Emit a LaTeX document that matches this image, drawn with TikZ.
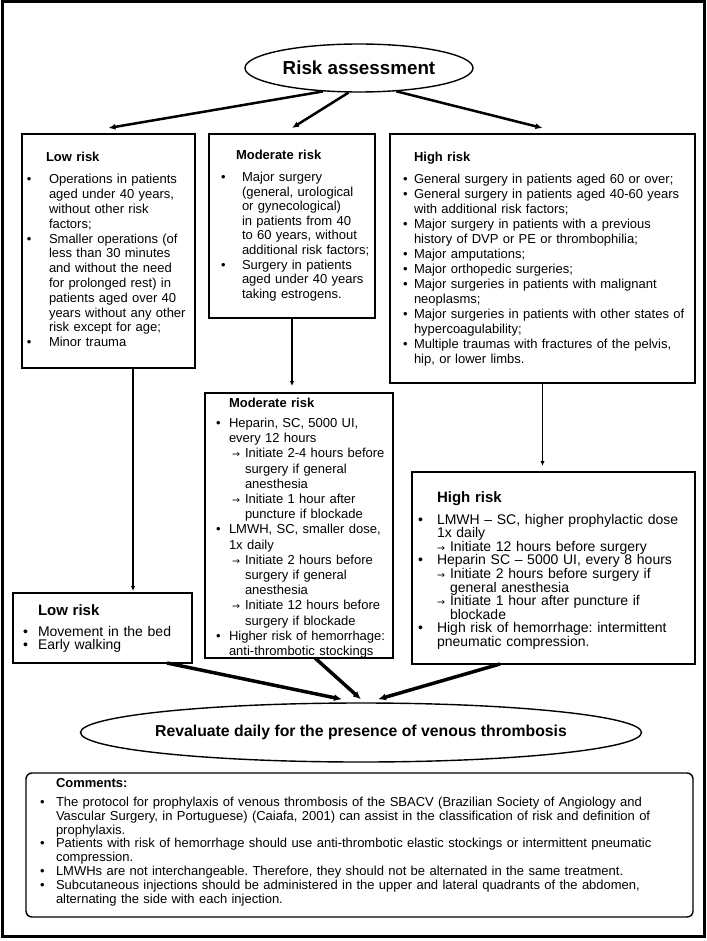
\documentclass[tikz,border=0pt]{standalone}
\usepackage{fontspec}
\setmainfont{Liberation Sans}
\newfontfamily\arrowfont{DejaVu Sans}
\usepackage{enumitem}
\usepackage{tikz}
\usetikzlibrary{shapes.geometric, arrows.meta, positioning}

\frenchspacing
\setlist[itemize]{nosep, labelsep=0pt, align=left, rightmargin=-40pt}
\setlist[itemize,1]{label=\textbullet}
\setlist[itemize,2]{label={\arrowfont\fontsize{9.5}{9.5}\selectfont →}}

\begin{document}
\begin{tikzpicture}[x=1pt, y=-1pt, >={Latex[length=7pt,width=6pt]}]
\tikzstyle{riskbox}=[draw, line width=1.6pt, anchor=north west, inner sep=0pt, outer sep=0pt, align=left]
\tikzstyle{riskoval}=[draw, ellipse, line width=1.4pt, inner sep=0pt, font=\bfseries]

\useasboundingbox (0,0) rectangle (706,941);
\draw[line width=3pt] (2,2) rectangle (704,936);

\node[riskoval, minimum width=228pt, minimum height=48pt, font={\fontsize{18.8}{20}\selectfont\bfseries}] (risk) at (359,68) {Risk assessment};

% first row: classification
\node[riskbox, text width=173pt, text height=28pt, text depth=206pt, font={\fontsize{13}{14.8}\selectfont}] (low1) at (22,134) {%
\noindent\hspace*{24pt}\textbf{Low risk}\par\vspace{7.2pt}
\begin{itemize}[leftmargin=27pt, labelwidth=22pt]
\item Operations in patients\\aged under 40 years,\\without other risk\\factors;
\item Smaller operations (of\\less than 30 minutes\\and without the need\\for prolonged rest) in\\patients aged over 40\\years without any other\\risk except for age;
\item Minor trauma
\end{itemize}};

\node[riskbox, text width=166pt, text height=25.5pt, text depth=158.5pt, font={\fontsize{13}{14.6}\selectfont}] (mod1) at (209,134) {%
\noindent\hspace*{27pt}\textbf{Moderate risk}\par\vspace{7.4pt}
\begin{itemize}[leftmargin=33pt, labelwidth=21pt]
\item Major surgery\\(general, urological\\or gynecological)\\in patients from 40\\to 60 years, without\\additional risk factors;
\item Surgery in patients\\aged under 40 years\\taking estrogens.
\end{itemize}};

\node[riskbox, text width=305pt, text height=27.5pt, text depth=221.5pt, font={\fontsize{13}{15}\selectfont}] (high1) at (390,134) {%
\noindent\hspace*{24pt}\textbf{High risk}\par\vspace{7pt}
\begin{itemize}[leftmargin=24pt, labelwidth=11pt]
\item General surgery in patients aged 60 or over;
\item General surgery in patients aged 40-60 years\\with additional risk factors;
\item Major surgery in patients with a previous\\history of DVP or PE or thrombophilia;
\item Major amputations;
\item Major orthopedic surgeries;
\item Major surgeries in patients with malignant\\neoplasms;
\item Major surgeries in patients with other states of\\hypercoagulability;
\item Multiple traumas with fractures of the pelvis,\\hip, or lower limbs.
\end{itemize}};

% second row: prophylaxis
\node[riskbox, text width=188pt, text height=14.5pt, text depth=250.5pt, font={\fontsize{13}{15.2}\selectfont}] (mod2) at (205,393) {%
\noindent\hspace*{24pt}\textbf{Moderate risk}\par\vspace{4.8pt}
\begin{itemize}[leftmargin=24pt, labelwidth=13pt]
\item Heparin, SC, 5000 UI,\\every 12 hours
  \begin{itemize}[leftmargin=16pt, labelwidth=13pt]
  \item Initiate 2-4 hours before\\surgery if general\\anesthesia
  \item Initiate 1 hour after\\puncture if blockade
  \end{itemize}
\item LMWH, SC, smaller dose,\\1x daily
  \begin{itemize}[leftmargin=16pt, labelwidth=13pt]
  \item Initiate 2 hours before\\surgery if general\\anesthesia
  \item Initiate 12 hours before\\surgery if blockade
  \end{itemize}
\item Higher risk of hemorrhage:\\anti-thrombotic stockings
\end{itemize}};

\node[riskbox, text width=283pt, text height=30pt, text depth=162pt, font={\fontsize{14}{13.6}\selectfont}] (high2) at (412,472) {%
\noindent\hspace*{25pt}{\fontsize{15}{13.6}\selectfont\textbf{High risk}}\par\vspace{8.4pt}
\begin{itemize}[leftmargin=25pt, labelwidth=19pt]
\item LMWH – SC, higher prophylactic dose\\1x daily
  \begin{itemize}[leftmargin=13pt, labelwidth=13pt]
  \item Initiate 12 hours before surgery
  \end{itemize}
\item Heparin SC – 5000 UI, every 8 hours
  \begin{itemize}[leftmargin=13pt, labelwidth=13pt]
  \item Initiate 2 hours before surgery if\\general anesthesia
  \item Initiate 1 hour after puncture if\\blockade
  \end{itemize}
\item High risk of hemorrhage: intermittent\\pneumatic compression.
\end{itemize}};

\node[riskbox, text width=179pt, text height=22pt, text depth=48pt, font={\fontsize{14}{13}\selectfont}] (low2) at (13,593) {%
\noindent\hspace*{25pt}{\fontsize{15}{13}\selectfont\textbf{Low risk}}\par\vspace{8.5pt}
\begin{itemize}[leftmargin=25pt, labelwidth=15pt]
\item Movement in the bed
\item Early walking
\end{itemize}};

\node[riskoval, inner xsep=-12pt, minimum width=561pt, minimum height=59pt, font={\fontsize{15.8}{17}\selectfont\bfseries}] (reval) at (361,732.5) {Revaluate daily for the presence of venous thrombosis};

\node[riskbox, rounded corners=6pt, line width=1.4pt, text width=667pt, text height=14pt, text depth=130pt, font={\fontsize{13}{13.8}\selectfont}] (comm) at (26,773) {%
\noindent\hspace*{30pt}\textbf{Comments:}\par\vspace{5.7pt}
\begin{itemize}[leftmargin=30pt, labelwidth=16pt]
\item The protocol for prophylaxis of venous thrombosis of the SBACV (Brazilian Society of Angiology and\\Vascular Surgery, in Portuguese) (Caiafa, 2001) can assist in the classification of risk and definition of\\prophylaxis.
\item Patients with risk of hemorrhage should use anti-thrombotic elastic stockings or intermittent pneumatic\\compression.
\item LMWHs are not interchangeable. Therefore, they should not be alternated in the same treatment.
\item Subcutaneous injections should be administered in the upper and lateral quadrants of the abdomen,\\alternating the side with each injection.
\end{itemize}};

\coordinate (lowdown) at ([xshift=24.5pt]low1.south);

\path[->, line width=2.5pt]
(risk.213) edge ([yshift=6pt]low1.north)
(risk.247) edge ([yshift=6pt]mod1.north)
(risk.328) edge ([yshift=6pt]high1.north);

\path[->, line width=1.3pt, >={Latex[length=5pt,width=4.5pt]}]
(lowdown) edge[shorten >=2pt] (lowdown |- low2.north)
(mod1.south) edge[shorten >=7pt] (mod1.south |- mod2.north)
(high1.south) edge[shorten >=6pt] (high1.south |- high2.north);

\path[->, line width=3.5pt, >={Latex[length=8pt,width=7pt]}]
([xshift=64.5pt]low2.south) edge ([xshift=-19pt,yshift=3pt]reval.north)
([xshift=16pt]mod2.south) edge ([yshift=3pt]reval.north)
([xshift=-53.5pt]high2.south) edge ([xshift=17pt,yshift=3pt]reval.north);

\end{tikzpicture}
\end{document}
